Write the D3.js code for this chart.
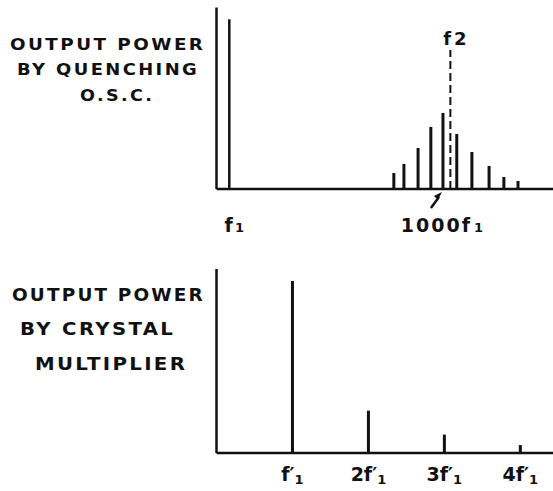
<!DOCTYPE html>
<html>
<head>
<meta charset="utf-8">
<script src="https://cdn.jsdelivr.net/npm/d3@7"></script>
<style>
  body { margin: 0; background: #fff; }
  text { font-family: "DejaVu Sans", sans-serif; font-weight: bold; fill: #111; }
</style>
</head>
<body>
<div id="chart"></div>
<script>
// top panel - quenching oscillator spectrum
var quenchTitle = ["OUTPUT POWER", "BY QUENCHING", "O.S.C."];
var quenchFreq = [3.8, 52.7, 55.7, 59.9, 63.7, 67.3, 71.4, 75.9, 81.0, 85.4, 89.6];
var quenchPower = [0.935, 0.088, 0.138, 0.226, 0.342, 0.419, 0.303, 0.204, 0.127, 0.066, 0.044];
var f2Freq = [69.5];
var f2Power = [0.766];
var quenchTickFreq = [3.8, 67.3];
var quenchTickMain = ["f", "1000f"];
var quenchTickSub = ["1", "1"];

// bottom panel - crystal multiplier harmonics
var crystalTitle = ["OUTPUT POWER", "BY CRYSTAL", "MULTIPLIER"];
var harmonic = [1, 2, 3, 4];
var crystalPower = [0.935, 0.23, 0.10, 0.043];
var crystalTickMain = ["f\u2032", "2f\u2032", "3f\u2032", "4f\u2032"];

var W = 553, H = 491;

var svg = d3.select("#chart").append("svg")
    .attr("width", W)
    .attr("height", H);

// scales
var xTop = d3.scaleLinear().domain([0, 100]).range([216.5, W]);
var yTop = d3.scaleLinear().domain([0, 1]).range([189, 7.5]);
var xBot = d3.scaleLinear().domain([0, 4.43]).range([216.5, W]);
var yBot = d3.scaleLinear().domain([0, 1]).range([453, 269]);

// title blocks - letters stretched sideways to match the wide hand lettering
var titleLayout = [
  {lines: quenchTitle, size: 15, x: [[10, 203], [17, 197], [80, 152]], y: [50, 75, 100.5]},
  {lines: crystalTitle, size: 17, x: [[12, 203], [20, 173], [35, 185]], y: [301, 335, 370]}
];
titleLayout.forEach(function(t) {
  t.lines.forEach(function(s, i) {
    var txt = svg.append("text")
        .attr("font-size", t.size)
        .attr("letter-spacing", 2)
        .text(s);
    var w = txt.node().getComputedTextLength() - 2;
    var sx = (t.x[i][1] - t.x[i][0]) / w;
    txt.attr("transform", "translate(" + t.x[i][0] + "," + t.y[i] + ") scale(" + sx + ",1)");
  });
});

// axes (just the two frame lines per panel)
function frame(x, y) {
  svg.append("line")
      .attr("x1", x.range()[0]).attr("x2", x.range()[0])
      .attr("y1", y.range()[1]).attr("y2", y(0))
      .attr("stroke", "#111").attr("stroke-width", 2.5);
  svg.append("line")
      .attr("x1", x.range()[0]).attr("x2", x.range()[1])
      .attr("y1", y(0)).attr("y2", y(0))
      .attr("stroke", "#111").attr("stroke-width", 2.5);
}
frame(xTop, yTop);
frame(xBot, yBot);

// top bars
svg.selectAll(".qbar")
    .data(quenchFreq)
  .enter().append("line")
    .attr("class", "qbar")
    .attr("x1", function(d) { return xTop(d); })
    .attr("x2", function(d) { return xTop(d); })
    .attr("y1", yTop(0))
    .attr("y2", function(d, i) { return yTop(quenchPower[i]); })
    .attr("stroke", "#111")
    .attr("stroke-width", function(d, i) { return i == 0 ? 2.5 : 3; });

// f2 dashed marker
svg.selectAll(".f2")
    .data(f2Freq)
  .enter().append("line")
    .attr("class", "f2")
    .attr("x1", function(d) { return xTop(d); })
    .attr("x2", function(d) { return xTop(d); })
    .attr("y1", yTop(0))
    .attr("y2", function(d, i) { return yTop(f2Power[i]); })
    .attr("stroke", "#111")
    .attr("stroke-width", 2)
    .attr("stroke-dasharray", "8,4");

svg.append("text")
    .attr("x", xTop(f2Freq[0]) + 6)
    .attr("y", 45)
    .attr("font-size", 18)
    .attr("text-anchor", "middle")
    .attr("letter-spacing", 3)
    .text("f2");

// top tick labels
quenchTickFreq.forEach(function(v, i) {
  var t = svg.append("text")
      .attr("x", xTop(v) + (i == 0 ? 5 : 0))
      .attr("y", 232)
      .attr("font-size", 19)
      .attr("text-anchor", "middle")
      .attr("letter-spacing", i == 0 ? 0 : 2);
  t.append("tspan").text(quenchTickMain[i]);
  t.append("tspan").attr("font-size", 13).attr("dx", 2).text(quenchTickSub[i]);
});

// little arrow pointing at the carrier
var tipX = xTop(quenchTickFreq[1]) - 1, tipY = yTop(0) + 3;
svg.append("line")
    .attr("x1", tipX - 11).attr("y1", tipY + 16)
    .attr("x2", tipX - 3).attr("y2", tipY + 5)
    .attr("stroke", "#111").attr("stroke-width", 2.5);
svg.append("path")
    .attr("d", "M" + tipX + "," + tipY + " l-8,4 l4,4 z")
    .attr("fill", "#111");

// bottom bars
svg.selectAll(".cbar")
    .data(harmonic)
  .enter().append("line")
    .attr("class", "cbar")
    .attr("x1", function(d) { return xBot(d); })
    .attr("x2", function(d) { return xBot(d); })
    .attr("y1", yBot(0))
    .attr("y2", function(d, i) { return yBot(crystalPower[i]); })
    .attr("stroke", "#111")
    .attr("stroke-width", 3);

// bottom tick labels  f'1, 2f'1 ...
harmonic.forEach(function(h, i) {
  var t = svg.append("text")
      .attr("x", xBot(h))
      .attr("y", 481)
      .attr("font-size", 19)
      .attr("text-anchor", "middle");
  t.append("tspan").text(crystalTickMain[i]);
  t.append("tspan").attr("font-size", 13).attr("dy", 3).text("1");
});
</script>
</body>
</html>
